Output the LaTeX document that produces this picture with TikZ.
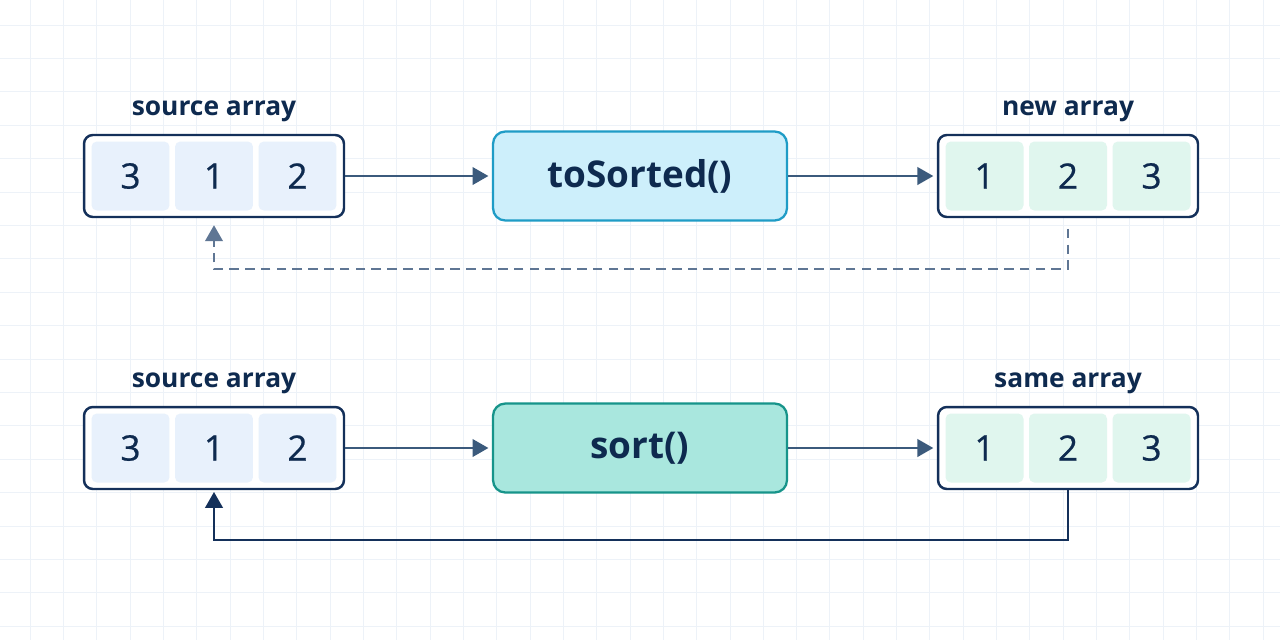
\documentclass[tikz,border=0pt]{standalone}
\usepackage{fontspec}
\setmainfont{Open Sans}
\newfontfamily\digitfont[FakeBold=0.6]{Open Sans}
\usetikzlibrary{positioning,calc,arrows.meta}

\definecolor{navy}{HTML}{14305A}
\definecolor{inkblue}{HTML}{0E2A4F}
\definecolor{flowgray}{HTML}{3B5A7C}
\definecolor{dashgray}{HTML}{5F7694}
\definecolor{cellblue}{HTML}{E8F1FC}
\definecolor{cellgreen}{HTML}{E0F6EE}
\definecolor{divgray}{HTML}{C9D6E3}
\definecolor{cyanfill}{HTML}{CDEFFB}
\definecolor{cyanline}{HTML}{1F9CC6}
\definecolor{tealfill}{HTML}{A9E7DE}
\definecolor{tealline}{HTML}{17948A}
\definecolor{gridgray}{HTML}{EDF2F8}

\begin{document}
\begin{tikzpicture}[x=0.02cm,y=-0.02cm,
    gridline/.style={draw=gridgray, line width=0.5pt},
    array/.style={draw=navy, fill=white, line width=1.4pt, rounded corners=5pt,
        minimum width=5.2cm, minimum height=1.64cm, inner sep=0pt},
    cell/.style={rounded corners=3pt, minimum width=1.56cm, minimum height=1.38cm,
        inner sep=0pt, text=inkblue, font=\digitfont\fontsize{20}{22}\selectfont},
    divider/.style={draw=divgray, line width=0.5pt},
    func/.style={line width=1.3pt, rounded corners=7pt, minimum width=5.88cm,
        minimum height=1.78cm, text=inkblue, font=\bfseries\fontsize{21}{24}\selectfont},
    arrlabel/.style={text=inkblue, font=\bfseries\fontsize{15}{18}\selectfont, inner sep=0pt},
    flow/.style={draw=flowgray, line width=1.1pt, -{Triangle[length=9pt,width=10pt]}},
    dashback/.style={draw=dashgray, line width=1.1pt, dash pattern=on 5.5pt off 3.5pt,
        -{Triangle[length=9pt,width=10pt]}},
    solidback/.style={draw=navy, line width=1.1pt, -{Triangle[length=9pt,width=10pt]}}]

    % background and grid
    \fill[white] (0,0) rectangle (1280,640);
    \useasboundingbox (0,0) rectangle (1280,640);
    \foreach \i in {0,...,37} \draw[gridline] (30+\i*33.33,0) -- (30+\i*33.33,640);
    \foreach \i in {0,...,18} \draw[gridline] (0,25+\i*33.4) -- (1280,25+\i*33.4);

    % top row: toSorted()
    \node[array] (srcA) at (214,176) {};
    \foreach \v [count=\k] in {3,1,2}
        \node[cell, fill=cellblue] (srcA\k) at ($(srcA)+(\k*83.5-167,0)$) {\v};
    \node[arrlabel, above=0.24cm of srcA] (srcAlabel) {source array};

    \node[func, draw=cyanline, fill=cyanfill] (toSorted) at (640,176) {toSorted()};

    \node[array] (newA) at (1068,176) {};
    \foreach \v [count=\k] in {1,2,3}
        \node[cell, fill=cellgreen] (newA\k) at ($(newA)+(\k*83.5-167,0)$) {\v};
    \node[arrlabel, above=0.24cm of newA] (newAlabel) {new array};

    % bottom row: sort()
    \node[array] (srcB) at (214,448) {};
    \foreach \v [count=\k] in {3,1,2}
        \node[cell, fill=cellblue] (srcB\k) at ($(srcB)+(\k*83.5-167,0)$) {\v};
    \node[arrlabel, above=0.24cm of srcB] (srcBlabel) {source array};

    \node[func, draw=tealline, fill=tealfill] (sort) at (640,448) {sort()};

    \node[array] (sameB) at (1068,448) {};
    \foreach \v [count=\k] in {1,2,3}
        \node[cell, fill=cellgreen] (sameB\k) at ($(sameB)+(\k*83.5-167,0)$) {\v};
    \node[arrlabel, above=0.24cm of sameB] (sameBlabel) {same array};

    % cell dividers
    \foreach \a in {srcA,newA,srcB,sameB} {
        \draw[divider] ($(\a1.east)!.5!(\a2.west)$ |- \a.north) -- ($(\a1.east)!.5!(\a2.west)$ |- \a.south);
        \draw[divider] ($(\a2.east)!.5!(\a3.west)$ |- \a.north) -- ($(\a2.east)!.5!(\a3.west)$ |- \a.south);
    }

    % flow arrows
    \draw[flow, shorten >=2pt] (srcA) -- (toSorted);
    \draw[flow, shorten >=2pt] (toSorted) -- (newA);
    \draw[flow, shorten >=2pt] (srcB) -- (sort);
    \draw[flow, shorten >=2pt] (sort) -- (sameB);

    % back connectors
    \draw[dashback, shorten <=6pt, shorten >=4pt] (newA.south -| newA2) -- ++(0,51) -| (srcA.south -| srcA2);
    \draw[solidback, shorten >=1pt] (sameB.south -| sameB2) -- ++(0,50) -| (srcB.south -| srcB2);
\end{tikzpicture}
\end{document}
